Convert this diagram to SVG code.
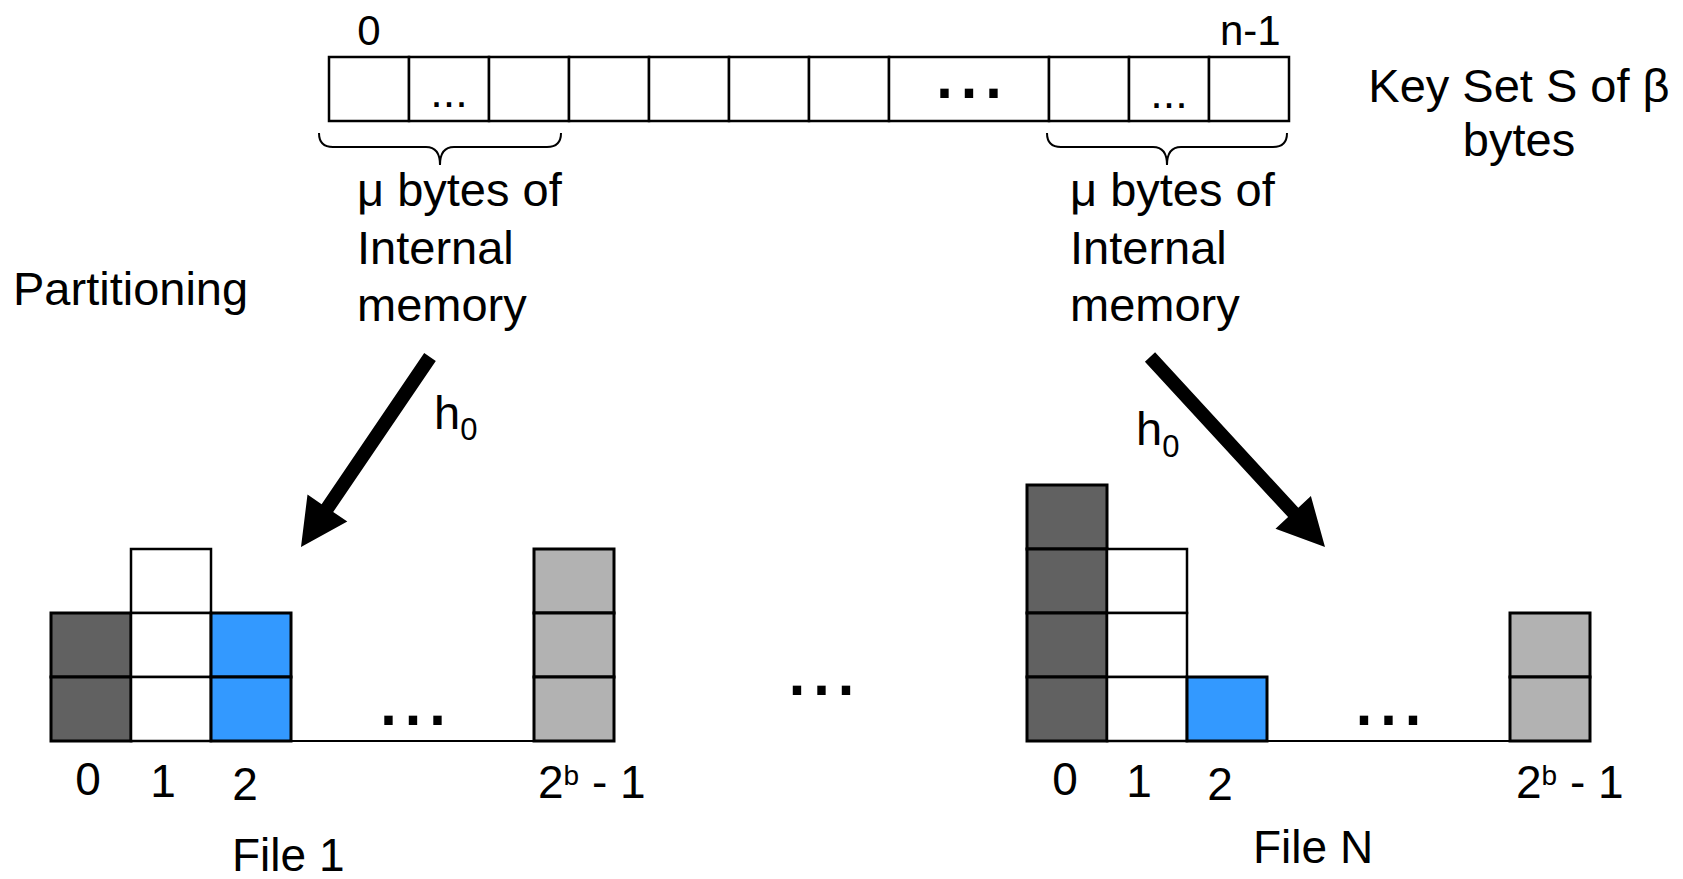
<svg xmlns="http://www.w3.org/2000/svg" width="1683" height="879" viewBox="0 0 1683 879">
  <style>
    text { font-family: "Liberation Sans", Arial, Helvetica, sans-serif; fill: #000; }
    .lbl { font-size: 47px; }
    .idx { font-size: 42px; }
    .num { font-size: 46px; }
    .dots-s { font-size: 45px; text-anchor: middle; }
    .dots-b { font-size: 88px; text-anchor: middle; }
    .cell { fill: #fff; stroke: #000; stroke-width: 2.5; }
    .dark { fill: #616161; stroke: #000; stroke-width: 3; }
    .white { fill: #fff; stroke: #000; stroke-width: 2.5; }
    .blue { fill: #3399ff; stroke: #000; stroke-width: 3; }
    .gray { fill: #b2b2b2; stroke: #000; stroke-width: 3; }
    .base { stroke: #000; stroke-width: 2; fill: none; }
    .brace { fill: none; stroke: #000; stroke-width: 2; }
    .arrow { fill: #000; stroke: none; }
  </style>

  <!-- key set array of n cells -->
  <g id="keyset">
    <rect class="cell" x="329" y="57" width="80" height="64"/>
    <rect class="cell" x="409" y="57" width="80" height="64"/>
    <rect class="cell" x="489" y="57" width="80" height="64"/>
    <rect class="cell" x="569" y="57" width="80" height="64"/>
    <rect class="cell" x="649" y="57" width="80" height="64"/>
    <rect class="cell" x="729" y="57" width="80" height="64"/>
    <rect class="cell" x="809" y="57" width="80" height="64"/>
    <rect class="cell" x="889" y="57" width="160" height="64"/>
    <rect class="cell" x="1049" y="57" width="80" height="64"/>
    <rect class="cell" x="1129" y="57" width="80" height="64"/>
    <rect class="cell" x="1209" y="57" width="80" height="64"/>
    <text class="dots-s" x="449" y="107">...</text>
    <text class="dots-b" x="969" y="98">...</text>
    <text class="dots-s" x="1169" y="108">...</text>
    <text class="idx" x="369" y="45" text-anchor="middle">0</text>
    <text class="idx" x="1220" y="45">n-1</text>
  </g>

  <g id="keyset-label">
    <text class="lbl" x="1519" y="102" text-anchor="middle">Key Set S of β</text>
    <text class="lbl" x="1519" y="156" text-anchor="middle">bytes</text>
  </g>

  <!-- internal-memory chunks -->
  <g id="chunk-left">
    <path class="brace" d="M319,133 Q319,147 333,147 L426,147 Q440,147 440,165 Q440,147 454,147 L547,147 Q561,147 561,133"/>
    <text class="lbl" x="357" y="206">μ bytes of</text>
    <text class="lbl" x="357" y="264">Internal</text>
    <text class="lbl" x="357" y="321">memory</text>
  </g>
  <g id="chunk-right">
    <path class="brace" d="M1047,133 Q1047,147 1061,147 L1153,147 Q1167,147 1167,165 Q1167,147 1181,147 L1273,147 Q1287,147 1287,133"/>
    <text class="lbl" x="1070" y="206">μ bytes of</text>
    <text class="lbl" x="1070" y="264">Internal</text>
    <text class="lbl" x="1070" y="321">memory</text>
  </g>

  <g id="partitioning">
    <text class="lbl" x="13" y="305">Partitioning</text>
  </g>

  <!-- h0 mappings -->
  <g id="connectors">
    <polygon class="arrow" points="424.2,353.1 435.8,360.9 333.2,512.0 347.3,521.6 301,547 307.5,494.6 321.6,504.2"/>
    <text class="lbl" x="434" y="429">h<tspan font-size="31" dy="11">0</tspan></text>
    <polygon class="arrow" points="1155.1,352.3 1144.9,361.7 1288.1,517.1 1275.5,528.7 1325,547 1310.9,496.1 1298.3,507.7"/>
    <text class="lbl" x="1136" y="445">h<tspan font-size="31" dy="12">0</tspan></text>
  </g>

  <!-- bucket file 1 -->
  <g id="file-1">
    <line class="base" x1="291" y1="741" x2="534" y2="741"/>
    <rect class="dark" x="51" y="613" width="80" height="64"/>
    <rect class="dark" x="51" y="677" width="80" height="64"/>
    <rect class="white" x="131" y="549" width="80" height="64"/>
    <rect class="white" x="131" y="613" width="80" height="64"/>
    <rect class="white" x="131" y="677" width="80" height="64"/>
    <rect class="blue" x="211" y="613" width="80" height="64"/>
    <rect class="blue" x="211" y="677" width="80" height="64"/>
    <rect class="gray" x="534" y="549" width="80" height="64"/>
    <rect class="gray" x="534" y="613" width="80" height="64"/>
    <rect class="gray" x="534" y="677" width="80" height="64"/>
    <text class="dots-b" x="413" y="725">...</text>
    <text class="num" x="88" y="795" text-anchor="middle">0</text>
    <text class="num" x="163" y="797" text-anchor="middle">1</text>
    <text class="num" x="245" y="800" text-anchor="middle">2</text>
    <text class="num" x="538" y="798">2<tspan font-size="28" dy="-13">b</tspan><tspan dy="13"> - 1</tspan></text>
    <text class="num" x="232" y="871">File 1</text>
  </g>

  <text class="dots-b" x="821.5" y="695">...</text>

  <!-- bucket file N -->
  <g id="file-n">
    <line class="base" x1="1267" y1="741" x2="1510" y2="741"/>
    <rect class="dark" x="1027" y="485" width="80" height="64"/>
    <rect class="dark" x="1027" y="549" width="80" height="64"/>
    <rect class="dark" x="1027" y="613" width="80" height="64"/>
    <rect class="dark" x="1027" y="677" width="80" height="64"/>
    <rect class="white" x="1107" y="549" width="80" height="64"/>
    <rect class="white" x="1107" y="613" width="80" height="64"/>
    <rect class="white" x="1107" y="677" width="80" height="64"/>
    <rect class="blue" x="1187" y="677" width="80" height="64"/>
    <rect class="gray" x="1510" y="613" width="80" height="64"/>
    <rect class="gray" x="1510" y="677" width="80" height="64"/>
    <text class="dots-b" x="1388.5" y="725">...</text>
    <text class="num" x="1065" y="795" text-anchor="middle">0</text>
    <text class="num" x="1139" y="797" text-anchor="middle">1</text>
    <text class="num" x="1220" y="800" text-anchor="middle">2</text>
    <text class="num" x="1516" y="798">2<tspan font-size="28" dy="-13">b</tspan><tspan dy="13"> - 1</tspan></text>
    <text class="num" x="1253" y="863">File N</text>
  </g>
</svg>
